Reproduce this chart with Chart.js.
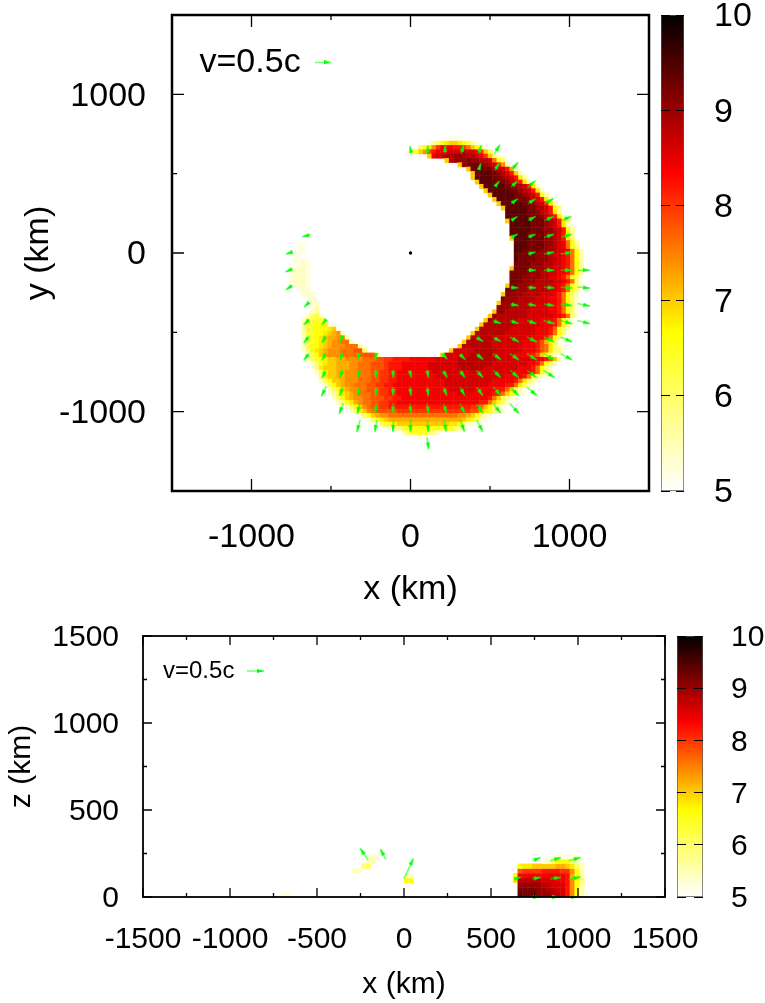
<!DOCTYPE html>
<html>
<head>
<meta charset="utf-8">
<title>Density maps</title>
<script src="https://cdn.jsdelivr.net/npm/chart.js@4/dist/chart.umd.js"></script>
<style>
    html, body { margin: 0; background: #fff; }
    canvas { position: absolute; }
</style>
</head>
<body>
<canvas id="topMap" width="765" height="610" style="left:0;top:0"></canvas>
<canvas id="topBar" width="104" height="530" style="left:661px;top:0"></canvas>
<canvas id="sideMap" width="765" height="403" style="left:0;top:600px"></canvas>
<canvas id="sideBar" width="88" height="300" style="left:677px;top:616px"></canvas>
<script>
// one letter per cell: a = 5.0, b = 5.2 ... z = 10.0 (spaces are only for reading)
const cellCodes = 'abcdefghijklmnopqrstuvwxyz';

// x-y map, [row, first column, cells]
const topCellRows = [
    [26, 7, 'aabbba'],
    [25, 3, 'abdfijkkjigdba'],
    [24, 1, 'bfijmprrrqqpnkifb'],
    [23, -2, 'abfhkmpqrrsssstssrpkf'],
    [22, 4, 'krssttuuuttsrpkfb'],
    [21, 8, 'ktuuuvuuttsnif'],
    [20, 11, 'kuvvvvutsqmd'],
    [19, 13, 'kvwwvvutsqlc'],
    [18, 14, 'kvwwwvutsqkd'],
    [17, 14, 'kwwwwvvutsqjd'],
    [16, 15, 'kwwwwvvutsqjc'],
    [15, 16, 'kwwwwwvvutsqjc'],
    [14, 17, 'kwwwwwvvutsqjc'],
    [13, 18, 'kwwwwwvvutsqid'],
    [12, 19, 'kwwwwwvvutsqjd'],
    [11, 20, 'kwwwwwvvutsqjd'],
    [10, 21, 'kwwwwwvvutsqie'],
    [9, 22, 'wwwwwvvutsqjd'],
    [8, 22, 'wwwwwvvvutsqjd'],
    [7, 22, 'kwwwwwvvvutsqje'],
    [6, 23, 'wwwwwvvvutsqjd'],
    [5, 23, 'wwwwwvvvuutsqid'],
    [4, 23, 'wwwwvvvvuutsqjd'],
    [3, 23, 'kwwwwvvvuutsqje'],
    [2, 24, 'wwwvvvvuutsrnid'],
    [1, 24, 'wwwvvvvuutsrnie'],
    [0, 24, 'wwvvvvuuutssrnid'],
    [-1, 24, 'wvvvvuuutssrqnid'],
    [-2, 24, 'wvvvvuuuttsrqnid'],
    [-3, 24, 'vvvvuuuttssrqnie'],
    [-4, 23, 'kvvvvuuuttssrqnie'],
    [-5, 23, 'vvvvuuuttssrrqnie'],
    [-6, 23, 'vvvuuuuttssrqnifb'],
    [-7, 23, 'vvvuuuttttssrqnfb'],
    [-8, 22, 'kvvuuuttttssrqnifb'],
    [-9, 22, 'vvuuutttttssrqnifb'],
    [-10, 21, 'kvuuuttttsssrqnifc'],
    [-11, 21, 'vuuuttttsssrrqnifc'],
    [-12, 20, 'kuuuttttssssrrqnifb'],
    [-13, 20, 'uuutttttssssrrqnifb'],
    [-14, 19, 'kuutttttsssssrrqnifb'],
    [-15, 18, 'kutttttttssssssrrqnfb'],
    [-16, 17, 'kuttttttsssssrrrqnifb'],
    [-17, 16, 'ktttttttssssssrrrqnifb'],
    [-18, 15, 'ktttttttssssssrrrqnifb'],
    [-19, 14, 'ktttttttsssssssrrrqnifb'],
    [-20, 13, 'kttttttssssssssrrrqnifb'],
    [-21, 12, 'kttttttsssssssrrrqoljfb'],
    [-22, 11, 'ktttttttsssssssrrrqonjfcb'],
    [-23, 9, 'kssssstttttssssssrrrqonjfeb'],
    [-24, 7, 'ksssssstttttsssssrrrqqokifcb'],
    [3, -26, 'aa'],
    [2, -27, 'aba'],
    [1, -27, 'abb'],
    [0, -27, 'abb'],
    [-1, -28, 'abba'],
    [-2, -28, 'abbb'],
    [-3, -28, 'abbcb'],
    [-4, -29, 'abbccb'],
    [-5, -29, 'abcccb'],
    [-6, -29, 'abcccb'],
    [-7, -29, 'abcccb'],
    [-8, -28, 'abccb'],
    [-9, -27, 'abcb'],
    [-10, -26, 'abcb'],
    [-11, -25, 'abc'],
    [-12, -24, 'abc'],
    [-13, -23, 'bd'],
    [-14, -23, 'cd'],
    [-15, -24, 'cfgc'],
    [-16, -25, 'cfghhb'],
    [-17, -25, 'dghiijb'],
    [-18, -25, 'dghiiijkb'],
    [-19, -25, 'dghiijklmc'],
    [-20, -25, 'cghijkllmmd'],
    [-21, -25, 'cghijklmmnnc'],
    [-22, -25, 'cfiijklmmmnnnd'],
    [-23, -25, 'bfijklmmmnnnoof'],
    [-24, -24, 'bfiklmmmnnnnoooof'],
    [-25, -24, 'cfhi jkkl lmmm mnnn oopp qqqq rrrr rrss ssst tttt tttt ssss ssss srrq okd'],
    [-26, -23, 'cfhj kkll lmmn nnoo opqq qrrr rrrs ssss sstt tttt ttss ssss ssrr qnif c'],
    [-27, -23, 'bejk kkll lmmn nnoo opqq qrrr rrrs ssss ssst tttt ssss ssss rrrq nifb a'],
    [-28, -22, 'cfik kllm mmnn noop pqqr rrrr rrrs ssss ssss ssss ssss ssrr rrqn ifc'],
    [-29, -22, 'bejk kllm mmnn noop pqqr rrrr rrrr ssss ssss ssss ssss rrrr qnif cb'],
    [-30, -21, 'cfik klmm mnnn oopp qqrr rrrr rrrr rsss ssss ssss rrrr rqnj fcba'],
    [-31, -20, 'cfik lmmn nnoo ppqq rrrr rrrr rrrr ssss ssss ssrr rrqq njfcba'],
    [-32, -19, 'cfik lmmn nooo ppqq rrrr rrrr rrrr ssss ssrr rrrq qnkf cbaa'],
    [-33, -19, 'bdgj klmn nnoo ppqq rrrr rrrr rrrr rrss rrrr rrqq nkif cba'],
    [-34, -18, 'cfik lmmn nooo ppqq rrrr rrrr rrrr rrrr rrrr qnkf ecba'],
    [-35, -17, 'cfij lmnn oopp qqrr rrrr rrrr rrrr rrrr rqqn kifc ba'],
    [-36, -15, 'cfik mnoo ppqq qqqq qqqq qqqq qqqq qppn kifc ba'],
    [-37, -14, 'bfik mnoo ooop pppp pppp pppp pppp oolj ifcb'],
    [-38, -12, 'bfik lmmn nnnn nnnn nnnn nnnm mlki fcba'],
    [-39, -10, 'cfhj klll llll llll llll llkj ifcb'],
    [-40, -8, 'bfhi jkkk kkkk kkkk kjji fcba'],
    [-41, -5, 'bdfh iiii iiii iihf db'],
    [-42, -3, 'acfhhihfeca'],
    [-43, 0, 'abbba']
];

// x-z map, same layout
const sideCellRows = [
    [0, -26, 'bb'],
    [0, 24, 'wvvvuuuttsqmid'],
    [1, 24, 'vvvvuuttssqmid'],
    [2, 24, 'uuuuuttsssqmid'],
    [3, 23, 'jtttttsssrrqmif'],
    [3, 0, 'ii'],
    [4, 23, 'irrrrrrrrrrqlhd'],
    [4, 0, 'cc'],
    [5, 24, 'oppppqqqqppmid'],
    [5, -11, 'cc'],
    [6, 24, 'ijjkkkkkllkjfc'],
    [6, -9, 'ef'],
    [7, 29, 'bcfiiifcb'],
    [7, -8, 'cd'],
    [8, 31, 'bbbbbb'],
    [8, -8, 'bc'],
    [8, -6, 'ba']
];

// velocity arrows, [column, row, vx, vy]
const topArrows = [
    [0, 6, -4, 20], [1, 6, -1, 22], [2, 6, 1, 26], [3, 6, 6, 27], [4, 6, 10, 25], [5, 6, 18, 27],
    [4, 5, 7, 20], [5, 5, 15, 22], [6, 5, 22, 25],
    [5, 4, 14, 17], [6, 4, 20, 18], [7, 4, 23, 20],
    [6, 3, 20, 15], [7, 3, 23, 15], [8, 3, 26, 16],
    [6, 2, 18, 12], [7, 2, 23, 12], [8, 2, 28, 12], [9, 2, 30, 12],
    [-6, 1, -25, -6], [6, 1, 20, 10], [7, 1, 23, 9], [8, 1, 30, 9], [9, 1, 32, 9],
    [-7, 0, -20, -6], [7, 0, 23, 6], [8, 0, 30, 6], [9, 0, 35, 6],
    [-7, -1, -22, -10], [7, -1, 26, 0], [8, -1, 32, 0], [9, -1, 35, 0], [10, -1, 37, 0],
    [-7, -2, -20, -14], [6, -2, 23, -1], [7, -2, 26, -2], [8, -2, 32, -2], [9, -2, 35, -2], [10, -2, 38, -4],
    [-6, -3, -14, -14], [6, -3, 25, -5], [7, -3, 26, -5], [8, -3, 32, -5], [9, -3, 35, -5], [10, -3, 38, -8],
    [-6, -4, -17, -17], [-5, -4, -12, -15], [5, -4, 23, -8], [6, -4, 25, -8], [7, -4, 28, -10], [8, -4, 33, -10], [9, -4, 35, -10], [10, -4, 38, -10],
    [-6, -5, -17, -22], [-5, -5, -12, -22], [-4, -5, -9, -18], [4, -5, 20, -12], [5, -5, 23, -13], [6, -5, 27, -15], [7, -5, 30, -15], [8, -5, 33, -15], [9, -5, 35, -15],
    [-6, -6, -17, -22], [-5, -6, -12, -22], [-4, -6, -7, -22], [-3, -6, -4, -20], [-2, -6, 0, -20], [2, -6, 13, -15], [3, -6, 17, -17], [4, -6, 20, -17], [5, -6, 23, -19], [6, -6, 27, -20], [7, -6, 30, -20], [8, -6, 33, -20], [9, -6, 35, -20],
    [-5, -7, -12, -25], [-4, -7, -10, -25], [-3, -7, -7, -25], [-2, -7, 0, -25], [-1, -7, 1, -25], [0, -7, 5, -22], [1, -7, 4, -22], [2, -7, 12, -22], [3, -7, 15, -22], [4, -7, 20, -22], [5, -7, 21, -22], [6, -7, 25, -22], [7, -7, 28, -22], [8, -7, 33, -22],
    [-5, -8, -15, -30], [-4, -8, -10, -28], [-3, -8, -7, -28], [-2, -8, 0, -28], [-1, -8, 1, -28], [0, -8, 3, -28], [1, -8, 4, -28], [2, -8, 10, -26], [3, -8, 14, -26], [4, -8, 18, -26], [5, -8, 22, -26], [6, -8, 25, -26], [7, -8, 30, -25],
    [-4, -9, -12, -32], [-3, -9, -7, -32], [-2, -9, -1, -30], [-1, -9, 1, -30], [0, -9, 3, -30], [1, -9, 5, -30], [2, -9, 10, -28], [3, -9, 14, -30], [4, -9, 18, -28], [5, -9, 22, -28], [6, -9, 28, -30],
    [-3, -10, -10, -37], [-2, -10, -6, -37], [-1, -10, -2, -37], [0, -10, 1, -37], [1, -10, 3, -37], [2, -10, 6, -35], [3, -10, 12, -35], [4, -10, 18, -35],
    [1, -11, 5, -37]
];

const sideArrows = [
    [7, 0, 22, 0], [8, 0, 22, 0], [9, 0, 22, 0],
    [6, 1, 20, 6], [7, 1, 25, 5], [8, 1, 32, 5], [9, 1, 36, 7],
    [7, 2, 23, 10], [8, 2, 32, 10], [9, 2, 36, 10],
    [-2.1, 2.26, -24, 35], [-1.1, 2.25, -17, 32], [0.25, 1.5, 28, 60]
];

const topTicks = { step: 500, labelStep: 1000 };
const sideXTicks = { step: 250, labelStep: 500 };
const colourStops = [[5, 255, 255, 255], [6.667, 255, 255, 0], [8.333, 255, 0, 0], [10, 0, 0, 0]];
const barTicks = [5, 6, 7, 8, 9, 10];
const centrePoint = [{ x: 0, y: 0 }];

function colourFor(v) {
    for (let i = 1; i < colourStops.length; i++) {
        const a = colourStops[i - 1], b = colourStops[i];
        if (v <= b[0]) {
            const t = (v - a[0]) / (b[0] - a[0]);
            return 'rgb(' + [1, 2, 3].map(k => Math.round(a[k] + (b[k] - a[k]) * t)).join(',') + ')';
        }
    }
    return '#000';
}

function cellPoints(rows, rowOffset, colOffset) {
    const points = [];
    const step = 27.25;
    rows.forEach(([row, first, cells]) => {
        [...cells.replace(/ /g, '')].forEach((code, i) => {
            points.push({
                x: (first + i + colOffset) * step,
                y: (row + rowOffset) * step,
                v: 5 + cellCodes.indexOf(code) * 0.2
            });
        });
    });
    return points;
}

// small arrow head, drawn once and rotated by the library
function makeHead() {
    const c = document.createElement('canvas');
    c.width = 4;
    c.height = 7;
    const g = c.getContext('2d');
    g.fillStyle = '#00ff00';
    g.beginPath();
    g.moveTo(2, 0);
    g.lineTo(4, 7);
    g.lineTo(0, 7);
    g.closePath();
    g.fill();
    return c;
}
const headImage = makeHead();

function arrowSets(arrows, kmPerUnit, kmPerPx, legend) {
    const step = 109;
    const shafts = [], heads = [];
    const all = arrows.map(a => [a[0] * step, a[1] * step, a[2] * kmPerUnit, a[3] * kmPerUnit]).concat([legend]);
    all.forEach(([x, y, u, v]) => {
        const len = Math.hypot(u, v);
        const tipX = x + u / 2, tipY = y + v / 2;
        shafts.push({ x: x - u / 2, y: y - v / 2 }, { x: tipX, y: tipY }, { x: null, y: null });
        heads.push({
            x: tipX - u / len * 3.5 * kmPerPx,
            y: tipY - v / len * 3.5 * kmPerPx,
            angle: Math.atan2(u, v) * 180 / Math.PI
        });
    });
    return { shafts, heads };
}

const frameTicks = {
    id: 'frameTicks',
    afterDraw(chart, args, opts) {
        const { ctx, chartArea: a, scales } = chart;
        ctx.save();
        ctx.strokeStyle = '#000';
        ctx.lineWidth = opts.tickWidth;
        ctx.beginPath();
        scales.x.ticks.forEach(t => {
            const px = scales.x.getPixelForValue(t.value);
            const len = t.value % opts.xMajor === 0 ? opts.major : opts.minor;
            ctx.moveTo(px, a.bottom); ctx.lineTo(px, a.bottom - len);
            ctx.moveTo(px, a.top); ctx.lineTo(px, a.top + len);
        });
        scales.y.ticks.forEach(t => {
            const py = scales.y.getPixelForValue(t.value);
            const len = t.value % opts.yMajor === 0 ? opts.major : opts.minor;
            ctx.moveTo(a.left, py); ctx.lineTo(a.left + len, py);
            ctx.moveTo(a.right, py); ctx.lineTo(a.right - len, py);
        });
        ctx.stroke();
        ctx.lineWidth = opts.frameWidth;
        ctx.strokeRect(a.left, a.top, a.right - a.left, a.bottom - a.top);
        ctx.fillStyle = '#000';
        ctx.font = opts.textSize + 'px "Liberation Sans"';
        ctx.textBaseline = 'middle';
        ctx.fillText('v=0.5c', scales.x.getPixelForValue(opts.textX), scales.y.getPixelForValue(opts.textY));
        ctx.restore();
    }
};

function drawMap(id, cfg) {
    const { shafts, heads } = arrowSets(cfg.arrows, cfg.kmPerUnit, cfg.kmPerPx, cfg.legendArrow);
    const datasets = [
        {
            data: heads,
            pointStyle: headImage,
            pointRadius: 4,
            pointRotation: c => c.raw ? c.raw.angle : 0,
            clip: false
        },
        {
            data: shafts,
            showLine: true,
            spanGaps: false,
            borderColor: 'rgba(0,255,0,0.55)',
            borderWidth: 1.6,
            pointRadius: 0,
            clip: false
        },
        {
            data: cfg.dot,
            pointStyle: 'circle',
            pointRadius: 1.7,
            pointBackgroundColor: '#000',
            pointBorderWidth: 0
        },
        {
            data: cfg.cells,
            pointStyle: 'rect',
            pointRadius: cfg.cellRadius,
            pointBorderWidth: 0,
            pointBackgroundColor: c => c.raw ? colourFor(c.raw.v) : '#fff'
        }
    ];
    const labelIf = major => v => v % major === 0 ? String(v) : '';
    new Chart(document.getElementById(id), {
        type: 'scatter',
        data: { datasets },
        options: {
            responsive: false,
            animation: false,
            events: [],
            layout: { padding: { left: 0, top: cfg.top, right: cfg.right, bottom: 0 } },
            plugins: {
                legend: { display: false },
                tooltip: { enabled: false },
                frameTicks: cfg.frame
            },
            scales: {
                x: {
                    type: 'linear',
                    min: -1500,
                    max: 1500,
                    grid: { display: false },
                    border: { display: false },
                    ticks: {
                        stepSize: cfg.xStep,
                        autoSkip: false,
                        maxRotation: 0,
                        color: '#000',
                        padding: cfg.xPad,
                        font: { family: 'Liberation Sans', size: cfg.font },
                        callback: labelIf(cfg.frame.xMajor)
                    },
                    title: {
                        display: true,
                        text: 'x (km)',
                        color: '#000',
                        padding: { top: cfg.xTitlePad, bottom: 0 },
                        font: { family: 'Liberation Sans', size: cfg.font }
                    },
                    afterFit(s) {
                        s.height = cfg.xHeight;
                        s.paddingLeft = s.paddingRight = 0;
                    }
                },
                y: {
                    type: 'linear',
                    min: cfg.yMin,
                    max: cfg.yMax,
                    grid: { display: false },
                    border: { display: false },
                    ticks: {
                        stepSize: cfg.yStep,
                        autoSkip: false,
                        color: '#000',
                        padding: cfg.yPad,
                        labelOffset: 2,
                        font: { family: 'Liberation Sans', size: cfg.font },
                        callback: labelIf(cfg.frame.yMajor)
                    },
                    title: {
                        display: true,
                        text: cfg.yTitle,
                        color: '#000',
                        padding: { top: cfg.yTitlePad, bottom: 0 },
                        font: { family: 'Liberation Sans', size: cfg.font }
                    },
                    afterFit(s) {
                        s.width = cfg.yWidth;
                        s.paddingTop = s.paddingBottom = 0;
                    }
                }
            }
        },
        plugins: [frameTicks]
    });
}

function drawBar(id, cfg) {
    new Chart(document.getElementById(id), {
        type: 'bar',
        data: {
            labels: [''],
            datasets: [{
                data: [[barTicks[0], barTicks[barTicks.length - 1]]],
                barPercentage: 1,
                categoryPercentage: 1,
                borderColor: '#555',
                borderWidth: 1,
                borderSkipped: false,
                backgroundColor(c) {
                    const area = c.chart.chartArea;
                    if (!area) return '#fff';
                    const y = c.chart.scales.y;
                    const g = c.chart.ctx.createLinearGradient(0, y.getPixelForValue(5), 0, y.getPixelForValue(10));
                    colourStops.forEach(s => g.addColorStop((s[0] - 5) / 5, colourFor(s[0])));
                    return g;
                }
            }]
        },
        options: {
            responsive: false,
            animation: false,
            events: [],
            layout: { padding: { left: 0, top: cfg.top, right: 0, bottom: 0 } },
            plugins: { legend: { display: false }, tooltip: { enabled: false } },
            scales: {
                x: {
                    display: true,
                    grid: { display: false },
                    border: { display: false },
                    ticks: { display: false },
                    afterFit(s) { s.height = cfg.bottom; s.paddingLeft = s.paddingRight = 0; }
                },
                y: {
                    position: 'right',
                    min: 5,
                    max: 10,
                    grid: { z: 1, color: '#000', lineWidth: 1, drawTicks: false, drawOnChartArea: true },
                    border: { display: false, dash: cfg.dash },
                    ticks: {
                        stepSize: 1,
                        color: '#000',
                        padding: cfg.pad,
                        labelOffset: 2,
                        font: { family: 'Liberation Sans', size: cfg.font }
                    },
                    afterFit(s) { s.width = cfg.width; s.paddingTop = s.paddingBottom = 0; }
                }
            }
        }
    });
}

// x-y map and colour bar
drawMap('topMap', {
    cells: cellPoints(topCellRows, 0.4, 0.4),
    arrows: topArrows,
    kmPerUnit: 2.1,
    kmPerPx: 6.29,
    legendArrow: [-550, 1201, 100, 0],
    dot: centrePoint,
    cellRadius: 3.4,
    top: 15,
    right: 116,
    xHeight: 119,
    yWidth: 172,
    yMin: -1500,
    yMax: 1500,
    xStep: topTicks.step,
    yStep: topTicks.step,
    font: 34,
    xPad: 18,
    yPad: 18,
    xTitlePad: 0,
    yTitlePad: 18,
    yTitle: 'y (km)',
    frame: { major: 12, minor: 5, tickWidth: 1.3, frameWidth: 2.5, xMajor: topTicks.labelStep, yMajor: topTicks.labelStep, textSize: 34, textX: -1327, textY: 1201 }
});
drawBar('topBar', { top: 15, bottom: 39, width: 81, pad: 30, font: 34, dash: [9, 6] });

// x-z map and colour bar
drawMap('sideMap', {
    cells: cellPoints(sideCellRows, 0.5, 0.5),
    arrows: sideArrows,
    kmPerUnit: 1.92,
    kmPerPx: 5.75,
    legendArrow: [-853, 1299, 98, 0],
    dot: [],
    cellRadius: 3.7,
    top: 36,
    right: 100,
    xHeight: 106,
    yWidth: 143,
    yMin: 0,
    yMax: 1500,
    xStep: sideXTicks.step,
    yStep: sideXTicks.step,
    font: 30,
    xPad: 17,
    yPad: 16,
    xTitlePad: 3,
    yTitlePad: 4,
    yTitle: 'z (km)',
    frame: { major: 9, minor: 4, tickWidth: 1.3, frameWidth: 1.8, xMajor: sideXTicks.labelStep, yMajor: sideXTicks.labelStep, textSize: 24, textX: -1385, textY: 1299 }
});
drawBar('sideBar', { top: 20, bottom: 19, width: 62, pad: 28, font: 30, dash: [9, 8] });
</script>
</body>
</html>
